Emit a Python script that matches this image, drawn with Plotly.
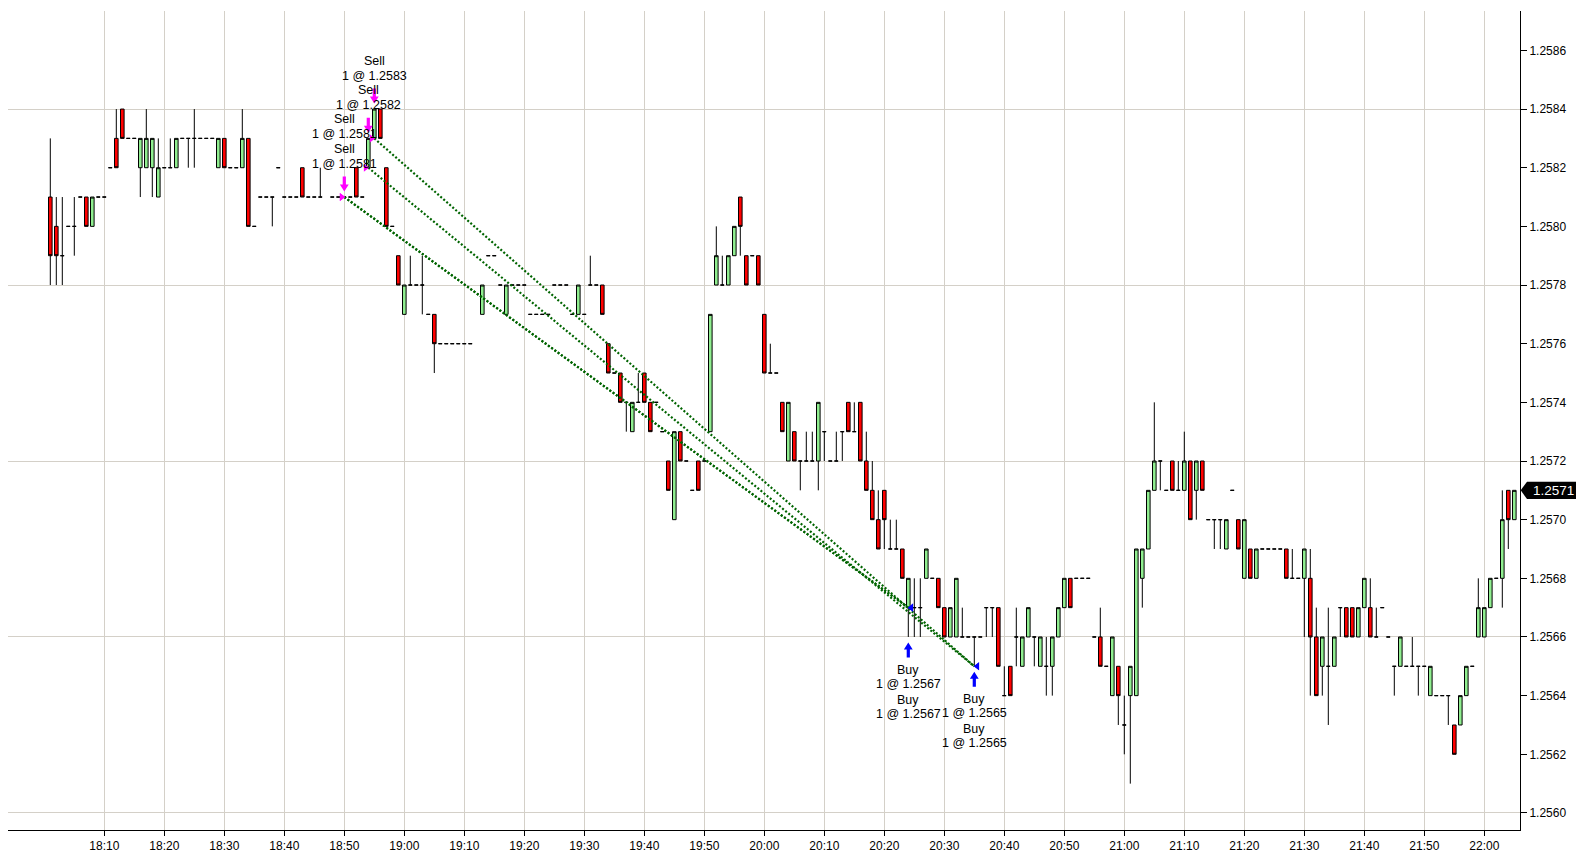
import pandas as pd
import plotly.graph_objects as go

session_day = "2010-03-15"

# one-minute bars, 18:01 - 22:05 (18:47 and 19:12 have no bar)
times = [
    "18:01", "18:02", "18:03", "18:04", "18:05", "18:06", "18:07", "18:08", "18:09",
    "18:10", "18:11", "18:12", "18:13", "18:14", "18:15", "18:16", "18:17", "18:18", "18:19",
    "18:20", "18:21", "18:22", "18:23", "18:24", "18:25", "18:26", "18:27", "18:28", "18:29",
    "18:30", "18:31", "18:32", "18:33", "18:34", "18:35", "18:36", "18:37", "18:38", "18:39",
    "18:40", "18:41", "18:42", "18:43", "18:44", "18:45", "18:46", "18:48", "18:49",
    "18:50", "18:51", "18:52", "18:53", "18:54", "18:55", "18:56", "18:57", "18:58", "18:59",
    "19:00", "19:01", "19:02", "19:03", "19:04", "19:05", "19:06", "19:07", "19:08", "19:09",
    "19:10", "19:11", "19:13", "19:14", "19:15", "19:16", "19:17", "19:18", "19:19",
    "19:20", "19:21", "19:22", "19:23", "19:24", "19:25", "19:26", "19:27", "19:28", "19:29",
    "19:30", "19:31", "19:32", "19:33", "19:34", "19:35", "19:36", "19:37", "19:38", "19:39",
    "19:40", "19:41", "19:42", "19:43", "19:44", "19:45", "19:46", "19:47", "19:48", "19:49",
    "19:50", "19:51", "19:52", "19:53", "19:54", "19:55", "19:56", "19:57", "19:58", "19:59",
    "20:00", "20:01", "20:02", "20:03", "20:04", "20:05", "20:06", "20:07", "20:08", "20:09",
    "20:10", "20:11", "20:12", "20:13", "20:14", "20:15", "20:16", "20:17", "20:18", "20:19",
    "20:20", "20:21", "20:22", "20:23", "20:24", "20:25", "20:26", "20:27", "20:28", "20:29",
    "20:30", "20:31", "20:32", "20:33", "20:34", "20:35", "20:36", "20:37", "20:38", "20:39",
    "20:40", "20:41", "20:42", "20:43", "20:44", "20:45", "20:46", "20:47", "20:48", "20:49",
    "20:50", "20:51", "20:52", "20:53", "20:54", "20:55", "20:56", "20:57", "20:58", "20:59",
    "21:00", "21:01", "21:02", "21:03", "21:04", "21:05", "21:06", "21:07", "21:08", "21:09",
    "21:10", "21:11", "21:12", "21:13", "21:14", "21:15", "21:16", "21:17", "21:18", "21:19",
    "21:20", "21:21", "21:22", "21:23", "21:24", "21:25", "21:26", "21:27", "21:28", "21:29",
    "21:30", "21:31", "21:32", "21:33", "21:34", "21:35", "21:36", "21:37", "21:38", "21:39",
    "21:40", "21:41", "21:42", "21:43", "21:44", "21:45", "21:46", "21:47", "21:48", "21:49",
    "21:50", "21:51", "21:52", "21:53", "21:54", "21:55", "21:56", "21:57", "21:58", "21:59",
    "22:00", "22:01", "22:02", "22:03", "22:04", "22:05",
]

opens = [
    1.2581, 1.2580, 1.2579, 1.2580, 1.2580, 1.2581, 1.2581, 1.2580, 1.2581,
    1.2581, 1.2582, 1.2583, 1.2584, 1.2583, 1.2583, 1.2582, 1.2582, 1.2582, 1.2581,
    1.2582, 1.2582, 1.2582, 1.2583, 1.2583, 1.2583, 1.2583, 1.2583, 1.2583, 1.2582,
    1.2583, 1.2582, 1.2582, 1.2582, 1.2583, 1.2580, 1.2581, 1.2581, 1.2581, 1.2582,
    1.2581, 1.2581, 1.2581, 1.2582, 1.2581, 1.2581, 1.2581, 1.2581, 1.2581,
    1.2581, 1.2581, 1.2582, 1.2581, 1.2582, 1.2583, 1.2584, 1.2582, 1.2580, 1.2579,
    1.2577, 1.2578, 1.2578, 1.2578, 1.2577, 1.2577, 1.2576, 1.2576, 1.2576, 1.2576,
    1.2576, 1.2576, 1.2577, 1.2579, 1.2579, 1.2578, 1.2577, 1.2578, 1.2578,
    1.2578, 1.2577, 1.2577, 1.2577, 1.2577, 1.2578, 1.2578, 1.2578, 1.2577, 1.2577,
    1.2577, 1.2578, 1.2578, 1.2578, 1.2576, 1.2575, 1.2575, 1.2574, 1.2573, 1.2574,
    1.2575, 1.2574, 1.2574, 1.2573, 1.2572, 1.2570, 1.2573, 1.2572, 1.2571, 1.2572,
    1.2572, 1.2573, 1.2578, 1.2578, 1.2578, 1.2579, 1.2581, 1.2579, 1.2579, 1.2579,
    1.2577, 1.2575, 1.2575, 1.2574, 1.2572, 1.2573, 1.2572, 1.2572, 1.2572, 1.2572,
    1.2573, 1.2572, 1.2572, 1.2573, 1.2574, 1.2573, 1.2574, 1.2572, 1.2571, 1.2570,
    1.2571, 1.2569, 1.2569, 1.2569, 1.2567, 1.2567, 1.2567, 1.2568, 1.2568, 1.2568,
    1.2567, 1.2566, 1.2566, 1.2566, 1.2566, 1.2566, 1.2566, 1.2567, 1.2567, 1.2567,
    1.2564, 1.2565, 1.2566, 1.2565, 1.2566, 1.2566, 1.2565, 1.2565, 1.2565, 1.2566,
    1.2567, 1.2568, 1.2568, 1.2568, 1.2568, 1.2566, 1.2566, 1.2565, 1.2564, 1.2565,
    1.2563, 1.2564, 1.2564, 1.2568, 1.2569, 1.2571, 1.2572, 1.2571, 1.2572, 1.2571,
    1.2571, 1.2572, 1.2571, 1.2572, 1.2570, 1.2570, 1.2570, 1.2569, 1.2571, 1.2570,
    1.2568, 1.2569, 1.2568, 1.2569, 1.2569, 1.2569, 1.2569, 1.2569, 1.2568, 1.2568,
    1.2568, 1.2568, 1.2566, 1.2565, 1.2565, 1.2565, 1.2567, 1.2567, 1.2567, 1.2566,
    1.2567, 1.2567, 1.2566, 1.2567, 1.2566, 1.2565, 1.2565, 1.2565, 1.2565, 1.2565,
    1.2565, 1.2564, 1.2564, 1.2564, 1.2564, 1.2563, 1.2563, 1.2564, 1.2565, 1.2566,
    1.2566, 1.2567, 1.2568, 1.2568, 1.2571, 1.2570,
]

highs = [
    1.2583, 1.2581, 1.2581, 1.2580, 1.2581, 1.2581, 1.2581, 1.2581, 1.2581,
    1.2581, 1.2582, 1.2584, 1.2584, 1.2583, 1.2583, 1.2583, 1.2584, 1.2583, 1.2583,
    1.2582, 1.2583, 1.2583, 1.2583, 1.2583, 1.2584, 1.2583, 1.2583, 1.2583, 1.2583,
    1.2583, 1.2582, 1.2582, 1.2584, 1.2583, 1.2580, 1.2581, 1.2581, 1.2581, 1.2582,
    1.2581, 1.2581, 1.2581, 1.2582, 1.2581, 1.2581, 1.2582, 1.2581, 1.2581,
    1.2581, 1.2581, 1.2582, 1.2581, 1.2583, 1.2584, 1.2584, 1.2582, 1.2580, 1.2579,
    1.2578, 1.2579, 1.2578, 1.2579, 1.2577, 1.2577, 1.2576, 1.2576, 1.2576, 1.2576,
    1.2576, 1.2576, 1.2578, 1.2579, 1.2579, 1.2578, 1.2578, 1.2578, 1.2578,
    1.2578, 1.2577, 1.2577, 1.2577, 1.2577, 1.2578, 1.2578, 1.2578, 1.2577, 1.2578,
    1.2577, 1.2579, 1.2578, 1.2578, 1.2576, 1.2575, 1.2575, 1.2574, 1.2574, 1.2575,
    1.2575, 1.2574, 1.2574, 1.2573, 1.2572, 1.2573, 1.2573, 1.2572, 1.2571, 1.2572,
    1.2572, 1.2577, 1.2580, 1.2579, 1.2579, 1.2580, 1.2581, 1.2579, 1.2579, 1.2579,
    1.2577, 1.2576, 1.2575, 1.2574, 1.2574, 1.2573, 1.2572, 1.2573, 1.2573, 1.2574,
    1.2573, 1.2572, 1.2573, 1.2573, 1.2574, 1.2574, 1.2574, 1.2573, 1.2572, 1.2571,
    1.2571, 1.2570, 1.2570, 1.2569, 1.2568, 1.2568, 1.2568, 1.2569, 1.2568, 1.2568,
    1.2567, 1.2567, 1.2568, 1.2567, 1.2566, 1.2566, 1.2566, 1.2567, 1.2567, 1.2567,
    1.2565, 1.2565, 1.2567, 1.2566, 1.2567, 1.2566, 1.2566, 1.2566, 1.2566, 1.2567,
    1.2568, 1.2568, 1.2568, 1.2568, 1.2568, 1.2566, 1.2567, 1.2565, 1.2566, 1.2565,
    1.2564, 1.2565, 1.2569, 1.2569, 1.2571, 1.2574, 1.2572, 1.2571, 1.2572, 1.2572,
    1.2573, 1.2572, 1.2572, 1.2572, 1.2570, 1.2570, 1.2570, 1.2570, 1.2571, 1.2570,
    1.2570, 1.2569, 1.2569, 1.2569, 1.2569, 1.2569, 1.2569, 1.2569, 1.2569, 1.2568,
    1.2569, 1.2569, 1.2567, 1.2566, 1.2567, 1.2566, 1.2567, 1.2567, 1.2567, 1.2567,
    1.2568, 1.2568, 1.2567, 1.2567, 1.2566, 1.2565, 1.2566, 1.2565, 1.2566, 1.2565,
    1.2565, 1.2565, 1.2564, 1.2564, 1.2564, 1.2563, 1.2564, 1.2565, 1.2565, 1.2568,
    1.2567, 1.2568, 1.2568, 1.2571, 1.2571, 1.2571,
]

lows = [
    1.2578, 1.2578, 1.2578, 1.2580, 1.2579, 1.2581, 1.2580, 1.2580, 1.2581,
    1.2581, 1.2582, 1.2582, 1.2583, 1.2583, 1.2583, 1.2581, 1.2582, 1.2581, 1.2581,
    1.2582, 1.2582, 1.2582, 1.2583, 1.2582, 1.2582, 1.2583, 1.2583, 1.2583, 1.2582,
    1.2582, 1.2582, 1.2582, 1.2582, 1.2580, 1.2580, 1.2581, 1.2581, 1.2580, 1.2582,
    1.2581, 1.2581, 1.2581, 1.2581, 1.2581, 1.2581, 1.2581, 1.2581, 1.2581,
    1.2581, 1.2581, 1.2581, 1.2581, 1.2582, 1.2583, 1.2583, 1.2580, 1.2580, 1.2578,
    1.2577, 1.2578, 1.2578, 1.2577, 1.2577, 1.2575, 1.2576, 1.2576, 1.2576, 1.2576,
    1.2576, 1.2576, 1.2577, 1.2579, 1.2579, 1.2578, 1.2577, 1.2578, 1.2578,
    1.2578, 1.2577, 1.2577, 1.2577, 1.2577, 1.2578, 1.2578, 1.2578, 1.2577, 1.2577,
    1.2577, 1.2578, 1.2578, 1.2577, 1.2575, 1.2575, 1.2574, 1.2573, 1.2573, 1.2574,
    1.2574, 1.2573, 1.2574, 1.2573, 1.2571, 1.2570, 1.2572, 1.2572, 1.2571, 1.2571,
    1.2572, 1.2573, 1.2578, 1.2578, 1.2578, 1.2579, 1.2579, 1.2578, 1.2579, 1.2578,
    1.2575, 1.2575, 1.2575, 1.2573, 1.2572, 1.2572, 1.2571, 1.2572, 1.2572, 1.2571,
    1.2572, 1.2572, 1.2572, 1.2572, 1.2573, 1.2573, 1.2572, 1.2571, 1.2570, 1.2569,
    1.2569, 1.2569, 1.2569, 1.2568, 1.2566, 1.2566, 1.2566, 1.2568, 1.2568, 1.2567,
    1.2566, 1.2566, 1.2566, 1.2566, 1.2566, 1.2565, 1.2566, 1.2566, 1.2566, 1.2565,
    1.2564, 1.2564, 1.2565, 1.2565, 1.2566, 1.2565, 1.2565, 1.2564, 1.2564, 1.2566,
    1.2567, 1.2567, 1.2568, 1.2568, 1.2568, 1.2566, 1.2565, 1.2565, 1.2564, 1.2563,
    1.2562, 1.2561, 1.2564, 1.2567, 1.2569, 1.2571, 1.2571, 1.2571, 1.2571, 1.2571,
    1.2571, 1.2570, 1.2570, 1.2571, 1.2570, 1.2569, 1.2569, 1.2569, 1.2571, 1.2569,
    1.2568, 1.2568, 1.2568, 1.2569, 1.2569, 1.2569, 1.2569, 1.2568, 1.2568, 1.2568,
    1.2566, 1.2564, 1.2564, 1.2564, 1.2563, 1.2565, 1.2566, 1.2566, 1.2566, 1.2566,
    1.2567, 1.2566, 1.2566, 1.2567, 1.2566, 1.2564, 1.2565, 1.2565, 1.2565, 1.2564,
    1.2565, 1.2564, 1.2564, 1.2564, 1.2563, 1.2562, 1.2563, 1.2564, 1.2565, 1.2566,
    1.2566, 1.2567, 1.2568, 1.2567, 1.2569, 1.2570,
]

closes = [
    1.2579, 1.2579, 1.2579, 1.2580, 1.2580, 1.2581, 1.2580, 1.2581, 1.2581,
    1.2581, 1.2582, 1.2582, 1.2583, 1.2583, 1.2583, 1.2583, 1.2583, 1.2583, 1.2582,
    1.2582, 1.2582, 1.2583, 1.2583, 1.2583, 1.2583, 1.2583, 1.2583, 1.2583, 1.2583,
    1.2582, 1.2582, 1.2582, 1.2583, 1.2580, 1.2580, 1.2581, 1.2581, 1.2581, 1.2582,
    1.2581, 1.2581, 1.2581, 1.2581, 1.2581, 1.2581, 1.2581, 1.2581, 1.2581,
    1.2581, 1.2581, 1.2581, 1.2581, 1.2583, 1.2584, 1.2583, 1.2580, 1.2580, 1.2578,
    1.2578, 1.2578, 1.2578, 1.2578, 1.2577, 1.2576, 1.2576, 1.2576, 1.2576, 1.2576,
    1.2576, 1.2576, 1.2578, 1.2579, 1.2579, 1.2578, 1.2578, 1.2578, 1.2578,
    1.2578, 1.2577, 1.2577, 1.2577, 1.2577, 1.2578, 1.2578, 1.2578, 1.2577, 1.2578,
    1.2577, 1.2578, 1.2578, 1.2577, 1.2575, 1.2575, 1.2574, 1.2574, 1.2574, 1.2574,
    1.2574, 1.2573, 1.2574, 1.2573, 1.2571, 1.2573, 1.2572, 1.2572, 1.2571, 1.2571,
    1.2572, 1.2577, 1.2579, 1.2578, 1.2579, 1.2580, 1.2580, 1.2578, 1.2579, 1.2578,
    1.2575, 1.2575, 1.2575, 1.2573, 1.2574, 1.2572, 1.2572, 1.2572, 1.2572, 1.2574,
    1.2573, 1.2572, 1.2572, 1.2573, 1.2573, 1.2573, 1.2572, 1.2571, 1.2570, 1.2569,
    1.2570, 1.2569, 1.2569, 1.2568, 1.2568, 1.2567, 1.2567, 1.2569, 1.2568, 1.2567,
    1.2566, 1.2567, 1.2568, 1.2566, 1.2566, 1.2566, 1.2566, 1.2567, 1.2567, 1.2565,
    1.2564, 1.2564, 1.2566, 1.2566, 1.2567, 1.2566, 1.2566, 1.2565, 1.2566, 1.2567,
    1.2568, 1.2567, 1.2568, 1.2568, 1.2568, 1.2566, 1.2565, 1.2565, 1.2566, 1.2564,
    1.2563, 1.2565, 1.2569, 1.2569, 1.2571, 1.2572, 1.2572, 1.2571, 1.2571, 1.2571,
    1.2572, 1.2570, 1.2572, 1.2571, 1.2570, 1.2570, 1.2570, 1.2570, 1.2571, 1.2569,
    1.2570, 1.2568, 1.2569, 1.2569, 1.2569, 1.2569, 1.2569, 1.2568, 1.2568, 1.2568,
    1.2569, 1.2566, 1.2564, 1.2566, 1.2565, 1.2566, 1.2567, 1.2566, 1.2566, 1.2567,
    1.2568, 1.2566, 1.2566, 1.2567, 1.2566, 1.2565, 1.2566, 1.2565, 1.2565, 1.2565,
    1.2565, 1.2565, 1.2564, 1.2564, 1.2564, 1.2562, 1.2564, 1.2565, 1.2565, 1.2567,
    1.2567, 1.2568, 1.2568, 1.2570, 1.2570, 1.2571,
]

tick_times = [
    "18:10", "18:20", "18:30", "18:40", "18:50", "19:00", "19:10", "19:20",
    "19:30", "19:40", "19:50", "20:00", "20:10", "20:20", "20:30", "20:40",
    "20:50", "21:00", "21:10", "21:20", "21:30", "21:40", "21:50", "22:00",
]

# executions (entries are sells, exits are buys), paired in order
entry_times = ["18:50", "18:50", "18:54", "18:55"]
entry_prices = [1.2581, 1.2581, 1.2582, 1.2583]
exit_times = ["20:24", "20:24", "20:35", "20:35"]
exit_prices = [1.2567, 1.2567, 1.2565, 1.2565]

GRID = "#D4D0C8"
FONT = "Liberation Sans"
FIG_W, FIG_H = 1576, 853          # page keeps an 8px body margin
PLOT_W, PLOT_H = 1512, 819
Y_RANGE = [1.2559419, 1.2587343]

# block arrows in pixel units (y up), tip at the anchor
ARROW_DOWN = "M 0,5.6 L 4.4,12.6 L 1.6,12.6 L 1.6,20.6 L -1.6,20.6 L -1.6,12.6 L -4.4,12.6 Z"
ARROW_UP = "M 0,-5.4 L 4.4,-12.4 L 1.6,-12.4 L 1.6,-20.4 L -1.6,-20.4 L -1.6,-12.4 L -4.4,-12.4 Z"


def ts(t, sec=0):
    return pd.Timestamp(f"{session_day} {t}") + pd.Timedelta(seconds=sec)


bar_x = [ts(t) for t in times]
bar_high = dict(zip(times, highs))
bar_low = dict(zip(times, lows))

fig = go.Figure()
fig.add_trace(go.Candlestick(
    x=bar_x, open=opens, high=highs, low=lows, close=closes,
    increasing=dict(fillcolor="#90EE90", line=dict(color="black", width=1)),
    decreasing=dict(fillcolor="#FF0000", line=dict(color="black", width=1)),
    whiskerwidth=0, yaxis="y", hoverinfo="skip",
))

# dotted lines entry -> exit
for et, ep, xt, xp in zip(entry_times, entry_prices, exit_times, exit_prices):
    fig.add_trace(go.Scatter(
        x=[ts(et), ts(xt)], y=[ep, xp], mode="lines", yaxis="y2",
        line=dict(color="#006400", width=2.2, dash="2px,2px"), hoverinfo="skip",
    ))

# fill markers
fig.add_trace(go.Scatter(
    x=[ts(t, -27) for t in entry_times], y=entry_prices, mode="markers", yaxis="y2",
    marker=dict(symbol="triangle-right", size=7, color="#FF00FF"), hoverinfo="skip",
))
fig.add_trace(go.Scatter(
    x=[ts(t, 30) for t in exit_times], y=exit_prices, mode="markers", yaxis="y2",
    marker=dict(symbol="triangle-left", size=7, color="#0000FF"), hoverinfo="skip",
))

annotations = []
shapes = []
txt_font = dict(family=FONT, size=12.5, color="black")

# sells: arrow above the bar, labels stacked above
stack = {}
for t, p in zip(entry_times, entry_prices):
    k = stack.get(t, 0)
    stack[t] = k + 1
    hi = bar_high[t]
    if k == 0:
        shapes.append(dict(
            type="path", xref="x", yref="y2", xsizemode="pixel", ysizemode="pixel",
            xanchor=ts(t), yanchor=hi, path=ARROW_DOWN,
            fillcolor="#FF00FF", line=dict(width=0),
        ))
    annotations.append(dict(x=ts(t), y=hi, xref="x", yref="y2", text="Sell",
                            showarrow=False, yshift=48 + 30 * k, font=txt_font))
    annotations.append(dict(x=ts(t), y=hi, xref="x", yref="y2", text=f"1 @ {p:.4f}",
                            showarrow=False, yshift=33 + 30 * k, font=txt_font))

# buys: arrow below the bar, labels stacked below
stack = {}
for t, p in zip(exit_times, exit_prices):
    k = stack.get(t, 0)
    stack[t] = k + 1
    lo = bar_low[t]
    if k == 0:
        shapes.append(dict(
            type="path", xref="x", yref="y2", xsizemode="pixel", ysizemode="pixel",
            xanchor=ts(t), yanchor=lo, path=ARROW_UP,
            fillcolor="#0000FF", line=dict(width=0),
        ))
    annotations.append(dict(x=ts(t), y=lo, xref="x", yref="y2", text="Buy",
                            showarrow=False, yshift=-(33 + 30 * k), font=txt_font))
    annotations.append(dict(x=ts(t), y=lo, xref="x", yref="y2", text=f"1 @ {p:.4f}",
                            showarrow=False, yshift=-(47 + 30 * k), font=txt_font))

# last price box on the price axis
last = closes[-1]
hh = 8.7 * (Y_RANGE[1] - Y_RANGE[0]) / PLOT_H
tip, left, right = 1512.7 / PLOT_W, 1519 / PLOT_W, 1569 / PLOT_W
shapes.append(dict(
    type="path", xref="paper", yref="y2",
    path=f"M {tip},{last} L {left},{last + hh} L {right},{last + hh} "
         f"L {right},{last - hh} L {left},{last - hh} Z",
    fillcolor="black", line=dict(width=0),
))
annotations.append(dict(x=1523 / PLOT_W, y=last, xref="paper", yref="y2", xanchor="left",
                        text=f"{last:.4f}", showarrow=False,
                        font=dict(family=FONT, size=13.5, color="white")))

fig.update_layout(
    width=FIG_W, height=FIG_H,
    margin=dict(l=0, r=FIG_W - PLOT_W, t=3, b=FIG_H - PLOT_H - 3),
    paper_bgcolor="white", plot_bgcolor="white",
    showlegend=False,
    boxgap=0.2, boxgroupgap=0.25,
    font=dict(family=FONT, size=12, color="black"),
    xaxis=dict(
        type="date", range=[ts("17:53:57"), ts("22:05:57")],
        tickvals=[ts(t) for t in tick_times], ticktext=tick_times,
        showgrid=True, gridcolor=GRID, gridwidth=1,
        ticks="outside", ticklen=5, tickcolor="black",
        showline=True, linecolor="black", linewidth=1,
        zeroline=False, rangeslider=dict(visible=False), automargin=False,
    ),
    yaxis=dict(
        range=Y_RANGE, tick0=1.2560, dtick=0.0006, side="right",
        showgrid=True, gridcolor=GRID, gridwidth=1,
        showticklabels=False, ticks="", zeroline=False, automargin=False,
    ),
    yaxis2=dict(
        range=Y_RANGE, overlaying="y", side="right", anchor="x",
        tick0=1.2560, dtick=0.0002, tickformat=".4f",
        showgrid=False, ticks="outside", ticklen=6, tickcolor="black",
        showline=True, linecolor="black", linewidth=1,
        zeroline=False, automargin=False,
    ),
    annotations=annotations,
    shapes=shapes,
)

fig.write_html("out.html")
